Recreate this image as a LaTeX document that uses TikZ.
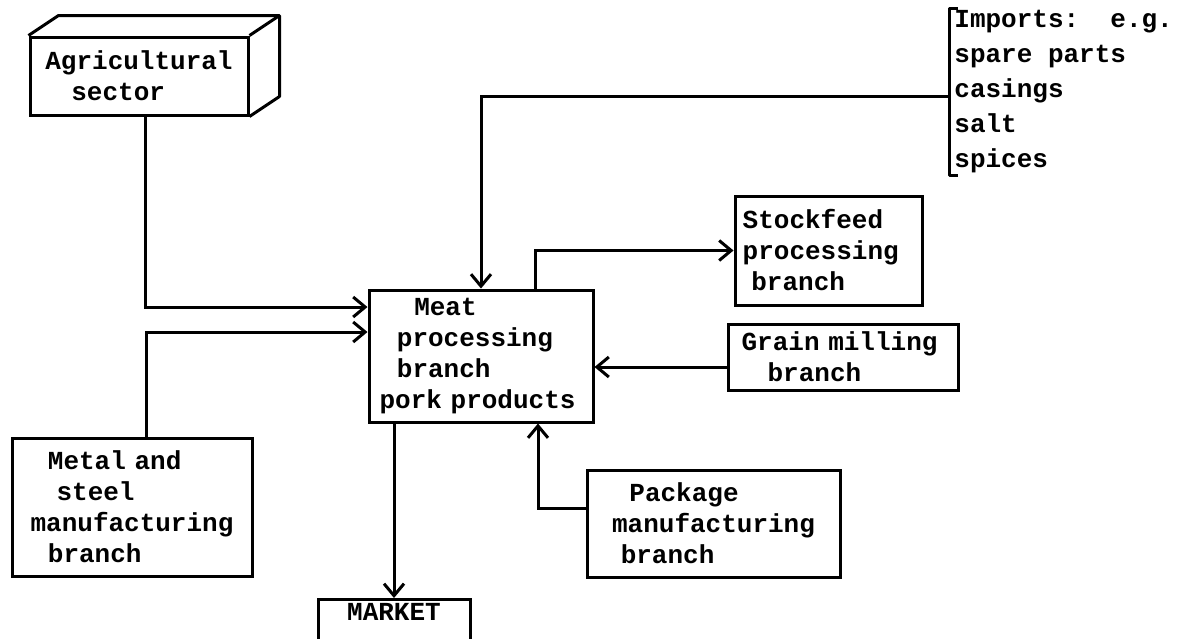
\documentclass[tikz,border=0pt]{standalone}
\usepackage{fontspec}
\setmonofont{Liberation Mono}
\usetikzlibrary{arrows.meta,positioning,calc}

\newcommand{\boxfont}{\ttfamily\bfseries\fontsize{13}{15.5}\selectfont}

\begin{document}
\begin{tikzpicture}[
    x=0.5pt, y=-0.5pt,
    unit/.style={draw, line width=1.5pt, inner sep=2pt, align=left, font=\boxfont},
    flow/.style={-{Straight Barb[length=6pt,width=10pt]}, line width=1.5pt},
    rim/.style={line width=1.5pt, line join=round}
  ]
    \useasboundingbox (0,0) rectangle (1178,638);

    % sources and branches
    \node[unit, minimum width=109pt, minimum height=39pt, text width=93.6pt] (agri) at (139,76) {Agricultural\\~~~sector};
    \node[unit, minimum width=112pt, minimum height=66pt, text width=101.4pt] (meat) at (481,356) {~~~~Meat\\~~processing\\~~branch\\pork products};
    \node[unit, minimum width=93.5pt, minimum height=54.5pt, text width=85.8pt] (stock) at (828.5,250.5) {Stockfeed\\processing\\~branch};
    \node[unit, minimum width=115pt, minimum height=33pt, text width=101.4pt] (grain) at (843,357) {Grain milling\\~~~branch};
    \node[unit, minimum width=126.5pt, minimum height=53.5pt, text width=101.4pt] (pack) at (713.5,523.5) {~~Package\\manufacturing\\~branch};
    \node[unit, minimum width=120pt, minimum height=69pt, text width=101.4pt] (metal) at (132,507) {~~Metal and\\~~~steel\\manufacturing\\~~branch};
    \node[unit, anchor=north, minimum width=76pt, text depth=26pt, align=center] (market) at (394,598) {MARKET};

    % imports list with its bracket
    \node[anchor=west, inner sep=0pt, align=left, font=\ttfamily\bfseries\fontsize{13}{17.5}\selectfont] (imports) at (954,92) {Imports:~~e.g.\\spare parts\\casings\\salt\\spices};
    \draw[rim] ($(imports.north west)+(4,-2)$) -- ($(imports.north west)+(-5,-2)$) -- ($(imports.south west)+(-5,2)$) -- ($(imports.south west)+(4,2)$);
    \coordinate (bracket) at ($(imports.north west)!0.53!(imports.south west)+(-5,0)$);

    % depth of the agricultural block
    \draw[rim] (agri.north west) -- ++(30,-20) -- ($(agri.north east)+(30,-20)$) -- ($(agri.south east)+(30,-20)$) -- (agri.south east);
    \draw[rim] (agri.north east) -- ++(30,-20);

    % flows
    \draw[flow] ([xshift=3pt]agri.south) |- ([yshift=24.5pt]meat.west);
    \draw[flow] ([xshift=7pt]metal.north) |- ([yshift=12pt]meat.west);
    \draw[flow] (bracket) -| (meat.north);
    \draw[flow] ([xshift=27pt]meat.north) |- (stock.west);
    \draw[flow] ([yshift=-5pt]grain.west) -- ([yshift=-5pt]grain.west -| meat.east);
    \draw[flow] ([yshift=7.75pt]pack.west) -| ([xshift=28.5pt]meat.south);
    \draw[flow] (meat.south -| market.north) -- (market.north);
  \end{tikzpicture}
\end{document}
